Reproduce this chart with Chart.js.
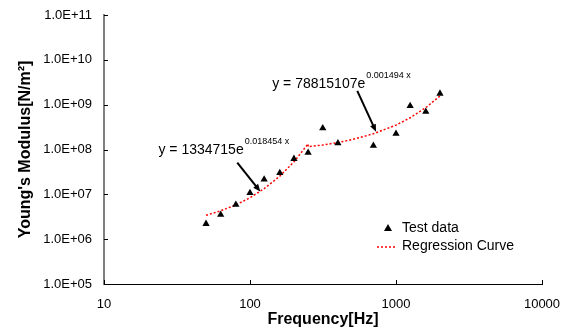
<!DOCTYPE html>
<html>
<head>
<meta charset="utf-8">
<script src="https://cdn.jsdelivr.net/npm/chart.js@4.4.1/dist/chart.umd.min.js"></script>
<style>
  html, body { margin: 0; padding: 0; background: #fff; }
  #wrap { width: 566px; height: 329px; }
</style>
</head>
<body>
<div id="wrap"><canvas id="chart" width="566" height="329"></canvas></div>
<script>
// test data (Hz, N/m^2)
const testFreq = [50, 63, 80, 100, 125, 160, 200, 250, 315, 400, 700, 1000, 1250, 1600, 2000];
const testModulus = [2.2e6, 3.5e6, 5.9e6, 1.08e7, 2.15e7, 3.0e7, 6.2e7, 8.5e7, 3.0e8, 1.39e8, 1.22e8, 2.26e8, 9.4e8, 7.0e8, 1.77e9];

// regression curve, two fitted pieces joined at 250 Hz
const curveFreq = [50, 63, 80, 100, 125, 160, 200, 250, 250, 315, 400, 500, 700, 1000, 1250, 1600, 2000];
const curveModulus = [3.4e6, 4.3e6, 5.8e6, 8.4e6, 1.34e7, 2.55e7, 5.3e7, 1.34e8, 1.15e8, 1.26e8, 1.43e8, 1.66e8, 2.24e8, 3.5e8, 5.1e8, 8.6e8, 1.56e9];

const xTicks = [10, 100, 1000, 10000];
const yTicks = [1e5, 1e6, 1e7, 1e8, 1e9, 1e10, 1e11];

const seriesNames = ['Test data', 'Regression Curve'];
const equations = [
    { base: 'y = 1334715e', exp: '0.018454 x' },
    { base: 'y = 78815107e', exp: '0.001494 x' }
];

const FONT = '"Liberation Sans", Arial, sans-serif';
const CURVE_RED = '#ff0000';

const toPoints = (xs, ys) => xs.map((x, i) => ({ x: x, y: ys[i] }));

const fmtExp = (v) => {
    const e = Math.round(Math.log10(v));
    return '1.0E+' + String(e).padStart(2, '0');
};

// annotation anchors in data units
const notes = [
    { text: equations[0], at: { x: 23.6, y: 7.8e7 }, from: { x: 81.8, y: 5.1e7 }, to: { x: 117.6, y: 1.16e7 } },
    { text: equations[1], at: { x: 142, y: 2.37e9 }, from: { x: 543, y: 2.03e9 }, to: { x: 730, y: 2.5e8 } }
];

const overlay = {
    id: 'overlay',
    afterDraw(chart) {
        const { ctx, scales: { x, y }, chartArea } = chart;
        ctx.save();

        // inside tick marks
        ctx.strokeStyle = '#000';
        ctx.lineWidth = 1;
        xTicks.forEach(v => {
            const px = Math.round(x.getPixelForValue(v)) + 0.5;
            ctx.beginPath();
            ctx.moveTo(px, chartArea.bottom);
            ctx.lineTo(px, chartArea.bottom - 4);
            ctx.stroke();
        });
        yTicks.forEach(v => {
            const py = Math.round(y.getPixelForValue(v)) + 0.5;
            ctx.beginPath();
            ctx.moveTo(chartArea.left, py);
            ctx.lineTo(chartArea.left + 4, py);
            ctx.stroke();
        });

        // equations + arrows
        notes.forEach(n => {
            const tx = x.getPixelForValue(n.at.x);
            const ty = y.getPixelForValue(n.at.y);
            ctx.fillStyle = '#000';
            ctx.textBaseline = 'alphabetic';
            ctx.textAlign = 'left';
            ctx.font = '14px ' + FONT;
            ctx.fillText(n.text.base, tx, ty);
            const w = ctx.measureText(n.text.base).width;
            ctx.font = '9px ' + FONT;
            ctx.fillText(n.text.exp, tx + w + 1, ty - 10);

            const x1 = x.getPixelForValue(n.from.x), y1 = y.getPixelForValue(n.from.y);
            const x2 = x.getPixelForValue(n.to.x), y2 = y.getPixelForValue(n.to.y);
            const ang = Math.atan2(y2 - y1, x2 - x1);
            ctx.strokeStyle = '#000';
            ctx.lineWidth = 2;
            ctx.beginPath();
            ctx.moveTo(x1, y1);
            ctx.lineTo(x2 - 5 * Math.cos(ang), y2 - 5 * Math.sin(ang));
            ctx.stroke();
            ctx.beginPath();
            ctx.moveTo(x2, y2);
            ctx.lineTo(x2 - 8 * Math.cos(ang - 0.4), y2 - 8 * Math.sin(ang - 0.4));
            ctx.lineTo(x2 - 8 * Math.cos(ang + 0.4), y2 - 8 * Math.sin(ang + 0.4));
            ctx.closePath();
            ctx.fill();
        });

        // legend
        const lx = 377, ly = 228;
        ctx.fillStyle = '#000';
        ctx.beginPath();
        ctx.moveTo(lx + 11, ly - 4);
        ctx.lineTo(lx + 15, ly + 3);
        ctx.lineTo(lx + 7, ly + 3);
        ctx.closePath();
        ctx.fill();
        ctx.strokeStyle = CURVE_RED;
        ctx.lineWidth = 1.5;
        ctx.setLineDash([2, 2]);
        ctx.beginPath();
        ctx.moveTo(lx, ly + 19);
        ctx.lineTo(lx + 20, ly + 19);
        ctx.stroke();
        ctx.setLineDash([]);
        ctx.fillStyle = '#000';
        ctx.font = '14px ' + FONT;
        ctx.textBaseline = 'middle';
        ctx.fillText(seriesNames[0], lx + 25, ly);
        ctx.fillText(seriesNames[1], lx + 25, ly + 18);

        ctx.restore();
    }
};

new Chart(document.getElementById('chart').getContext('2d'), {
    type: 'scatter',
    data: {
        datasets: [{
            label: seriesNames[0],
            data: toPoints(testFreq, testModulus),
            pointStyle: 'triangle',
            pointRadius: 4.2,
            backgroundColor: '#000',
            borderColor: '#000',
            borderWidth: 0
        }, {
            label: seriesNames[1],
            data: toPoints(curveFreq, curveModulus),
            showLine: true,
            pointRadius: 0,
            borderColor: CURVE_RED,
            borderWidth: 1.5,
            borderDash: [2, 2],
            fill: false
        }]
    },
    options: {
        responsive: false,
        animation: false,
        layout: { padding: { top: 15, right: 24, left: 0, bottom: 0 } },
        plugins: {
            legend: { display: false },
            tooltip: { enabled: false }
        },
        scales: {
            x: {
                type: 'logarithmic',
                min: 10,
                max: 10000,
                afterBuildTicks: s => { s.ticks = xTicks.map(v => ({ value: v })); },
                afterFit: s => {
                    s.height = 45;
                    s.paddingLeft = 0;
                    s.paddingRight = 0;
                },
                grid: { display: false, drawTicks: false },
                border: { color: '#000', width: 1 },
                ticks: {
                    color: '#000',
                    padding: 13,
                    maxRotation: 0,
                    font: { family: FONT, size: 13 },
                    callback: v => String(v)
                },
                title: {
                    display: true,
                    text: 'Frequency[Hz]',
                    color: '#000',
                    font: { family: FONT, size: 16, weight: 'bold' },
                    padding: { top: 8, bottom: 0 }
                }
            },
            y: {
                type: 'logarithmic',
                min: 1e5,
                max: 1e11,
                afterBuildTicks: s => { s.ticks = yTicks.map(v => ({ value: v })); },
                afterFit: s => {
                    s.width = 104;
                    s.paddingTop = 0;
                    s.paddingBottom = 0;
                },
                grid: { display: false, drawTicks: false },
                border: { color: '#808080', width: 2 },
                ticks: {
                    color: '#000',
                    padding: 12,
                    font: { family: FONT, size: 13 },
                    callback: v => fmtExp(v)
                },
                title: {
                    display: true,
                    text: "Young's Modulus[N/m²]",
                    color: '#000',
                    font: { family: FONT, size: 16, weight: 'bold' },
                    padding: { top: 16, bottom: 0 }
                }
            }
        }
    },
    plugins: [overlay]
});
</script>
</body>
</html>
